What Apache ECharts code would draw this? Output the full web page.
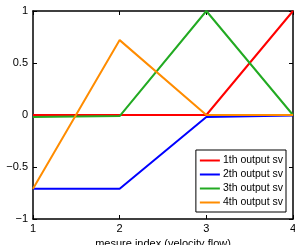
<!DOCTYPE html>
<html><head><meta charset="utf-8">
<script src="https://cdn.jsdelivr.net/npm/echarts@6/dist/echarts.min.js"></script>
<style>html,body{margin:0;padding:0;background:#fff}#c{width:295px;height:245px}</style>
</head><body><div id="c"></div>
<script>
const xValues = [1, 2, 3, 4];
const seriesNames = ['1th output sv', '2th output sv', '3th output sv', '4th output sv'];
const s1 = [0, 0, 0, 1];
const s2 = [-0.71, -0.71, -0.02, -0.005];
const s3 = [-0.02, -0.01, 1, 0];
const s4 = [-0.71, 0.72, 0, 0];
const colors = ['#ff0000', '#0000ff', '#22aa22', '#ff8c00'];
const xTicks = [1, 2, 3, 4];
const yTicks = [-1, -0.5, 0, 0.5, 1];

const all = [s1, s2, s3, s4];
const chart = echarts.init(document.getElementById('c'), null, {renderer: 'canvas'});
const font = 'Liberation Sans';
const axisLine = {show: true, onZero: false, lineStyle: {color: '#000', width: 1.5}};
const tick = {inside: true, length: 4, lineStyle: {color: '#000'}};
chart.setOption({
  animation: false,
  color: colors,
  grid: {left: 33, right: 2, top: 11, bottom: 26, containLabel: false, outerBoundsMode: 'none'},
  xAxis: [
    {type: 'value', min: 1, max: 4, interval: 1, position: 'bottom',
     axisLine: axisLine, axisTick: tick, splitLine: {show: false},
     axisLabel: {color: '#000', fontFamily: font, fontSize: 11, margin: 4,
       formatter: v => xTicks.includes(v) ? String(v) : ''},
     name: 'mesure index (velocity flow)', nameLocation: 'middle', nameGap: 16,
     nameTextStyle: {color: '#000', fontFamily: font, fontSize: 11}},
    {type: 'value', min: 1, max: 4, interval: 1, position: 'top',
     axisLine: axisLine, axisTick: tick, axisLabel: {show: false}, splitLine: {show: false}}
  ],
  yAxis: [
    {type: 'value', min: -1, max: 1, interval: 0.5, position: 'left',
     axisLine: axisLine, axisTick: tick, splitLine: {show: false},
     axisLabel: {color: '#000', fontFamily: font, fontSize: 11, margin: 5,
       formatter: v => yTicks.includes(v) ? (v < 0 ? '\u2212' + Math.abs(v) : String(v)) : ''}},
    {type: 'value', min: -1, max: 1, interval: 0.5, position: 'right',
     axisLine: axisLine, axisTick: tick, axisLabel: {show: false}, splitLine: {show: false}}
  ],
  legend: {
    orient: 'vertical', right: 9, top: 150,
    backgroundColor: '#fff', borderColor: '#000', borderWidth: 1,
    padding: [5, 3, 4, 4], itemGap: 3,
    icon: 'rect', itemWidth: 20, itemHeight: 2,
    textStyle: {color: '#000', fontFamily: font, fontSize: 10.5, padding: [0, 0, 0, -2]},
    data: seriesNames
  },
  series: all.map((d, i) => ({
    name: seriesNames[i], type: 'line', symbol: 'none',
    lineStyle: {width: 2, color: colors[i]},
    data: xValues.map((x, j) => [x, d[j]])
  }))
});
</script></body></html>
